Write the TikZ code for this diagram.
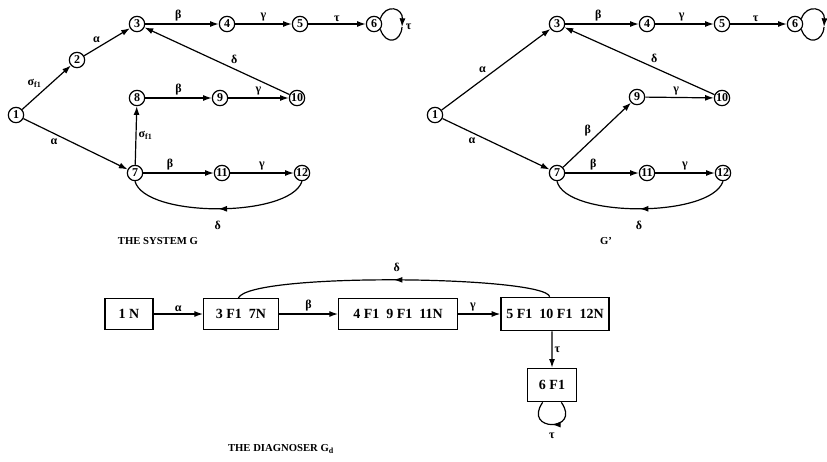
\documentclass[tikz,border=0pt]{standalone}
\usepackage{fontspec}
\setmainfont{Liberation Serif}
\usetikzlibrary{arrows.meta,decorations.markings}
\begin{document}
\begin{tikzpicture}[x=0.75pt,y=-0.75pt,
  font=\bfseries,
  st/.style={circle,draw,line width=0.9pt,minimum size=11.5pt,inner sep=0pt,font=\bfseries\fontsize{9}{9}\selectfont},
  tr/.style={line width=0.9pt,-{Latex[length=6.5pt,width=4.5pt]}},
  ln/.style={line width=0.9pt},
  lb/.style={font=\bfseries\fontsize{9}{9}\selectfont,inner sep=1.5pt},
  ttl/.style={font=\bfseries\fontsize{8}{8}\selectfont,inner sep=0pt},
  midarrow/.style={postaction={decorate},decoration={markings,mark=at position #1 with {\arrow{Latex[length=6.5pt,width=4.5pt]}}}},
  bx/.style={draw,line width=1pt,minimum height=23pt,inner sep=2pt,font=\bfseries\fontsize{10.5}{10.5}\selectfont},
  ]
\useasboundingbox (0,0) rectangle (827,461);

% ---------- THE SYSTEM G ----------
\node[st] (g1) at (16,115) {1};
\node[st] (g2) at (77,60) {2};
\node[st] (g3) at (137,24) {3};
\node[st] (g4) at (227,24) {4};
\node[st] (g5) at (300,24) {5};
\node[st] (g6) at (374,24) {6};
\node[st] (g8) at (137,98) {8};
\node[st] (g9) at (220,98) {9};
\node[st] (g10) at (297,98) {10};
\node[st] (g7) at (135,173) {7};
\node[st] (g11) at (222,173) {11};
\node[st] (g12) at (302,173) {12};
\coordinate (gL) at (402,27);

\draw[tr] (g1) -- node[lb,above left,pos=0.45]{σ\textsubscript{f1}} (g2);
\draw[tr] (g2) -- node[lb,above left,pos=0.4]{α} (g3);
\draw[tr] (g3) -- node[lb,above,pos=0.45]{β} (g4);
\draw[tr] (g4) -- node[lb,above]{γ} (g5);
\draw[tr] (g5) -- node[lb,above]{τ} (g6);
\draw[tr] (g10) -- node[lb,above right,pos=0.42]{δ} (g3);
\draw[tr] (g8) -- node[lb,above]{β} (g9);
\draw[tr] (g9) -- node[lb,above]{γ} (g10);
\draw[tr] (g7) -- node[lb,right]{σ\textsubscript{f1}} (g8);
\draw[tr] (g1) -- node[lb,below left,pos=0.35]{α} (g7);
\draw[tr] (g7) -- node[lb,above,pos=0.38]{β} (g11);
\draw[tr] (g11) -- node[lb,above]{γ} (g12);
\draw[ln,midarrow=0.5] (g12.south) .. controls (290,218) and (145,218) .. node[lb,below=7pt]{δ} (g7.south);
\draw[tr] (g6.40) .. controls (386,3) and (403,8) .. (gL) node[lb,right=1pt]{τ};
\draw[ln] (gL) .. controls (401,42) and (386,46) .. (g6.-40);

\node[ttl] (tg) at (158,241) {THE SYSTEM G};

% ---------- G' ----------
\node[st] (h1) at (435,115) {1};
\node[st] (h3) at (557,24) {3};
\node[st] (h4) at (647,24) {4};
\node[st] (h5) at (722,24) {5};
\node[st] (h6) at (795,24) {6};
\node[st] (h9) at (637,97) {9};
\node[st] (h10) at (722,98) {10};
\node[st] (h7) at (557,173) {7};
\node[st] (h11) at (647,173) {11};
\node[st] (h12) at (723,173) {12};
\coordinate (hL) at (824,27);

\draw[tr] (h1) -- node[lb,above left,pos=0.43]{α} (h3);
\draw[tr] (h1) -- node[lb,below left,pos=0.33]{α} (h7);
\draw[tr] (h3) -- node[lb,above,pos=0.45]{β} (h4);
\draw[tr] (h4) -- node[lb,above,pos=0.45]{γ} (h5);
\draw[tr] (h5) -- node[lb,above,pos=0.45]{τ} (h6);
\draw[tr] (h10) -- node[lb,above right,pos=0.44]{δ} (h3);
\draw[tr] (h9) -- node[lb,above,pos=0.45]{γ} (h10);
\draw[tr] (h7) -- node[lb,above left,pos=0.45]{β} (h9);
\draw[tr] (h7) -- node[lb,above,pos=0.38]{β} (h11);
\draw[tr] (h11) -- node[lb,above]{γ} (h12);
\draw[ln,midarrow=0.5] (h12.south) .. controls (711,218) and (566,218) .. node[lb,below=7pt]{δ} (h7.south);
\draw[tr] (h6.40) .. controls (807,3) and (825,8) .. (hL);
\draw[ln] (hL) .. controls (823,42) and (807,46) .. (h6.-40);

\node[ttl] (tgp) at (606,241) {G'};

% ---------- THE DIAGNOSER ----------
\node[bx,minimum width=36pt] (d1) at (129,314) {1 N};
\node[bx,minimum width=56pt] (d3) at (241,314) {3 F1\ \ 7N};
\node[bx,minimum width=89pt] (d4) at (398,314) {4 F1\ \ 9 F1\ \ 11N};
\node[bx,minimum width=81pt,minimum height=25pt] (d5) at (555,314) {5 F1\ \ 10 F1\ \ 12N};
\node[bx,minimum width=37pt,minimum height=25pt] (d6) at (552,385) {6 F1};

\draw[tr] (d1) -- node[lb,above]{α} (d3);
\draw[tr] (d3) -- node[lb,above]{β} (d4);
\draw[tr] (d4) -- node[lb,above,pos=0.35]{γ} (d5);
\draw[tr] ([xshift=-2.2pt]d5.south) -- node[lb,right]{τ} ([xshift=0pt]d6.north);
\draw[ln,midarrow=0.5] ([xshift=-4pt]d5.north) .. controls (545,276) and (250,272) .. node[lb,above=4pt]{δ} ([xshift=-2pt]d3.north);
\draw[ln,midarrow=0.5] ([xshift=7pt]d6.south) .. controls (582,432) and (522,432) .. node[lb,below=4pt]{τ} ([xshift=-7pt]d6.south);

\node[ttl] (td) at (281,449) {THE DIAGNOSER G\textsubscript{d}};
\end{tikzpicture}
\end{document}
